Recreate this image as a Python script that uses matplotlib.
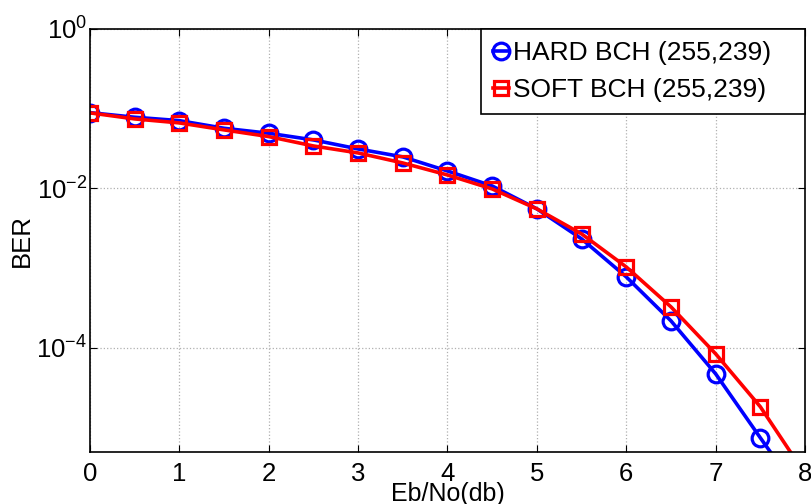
import matplotlib
matplotlib.use('Agg')
import matplotlib.pyplot as plt
import numpy as np

plt.rcParams['font.family'] = ['Liberation Sans', 'DejaVu Sans']
plt.rcParams['mathtext.fontset'] = 'custom'
plt.rcParams['mathtext.rm'] = 'Liberation Sans'
plt.rcParams['mathtext.it'] = 'Liberation Sans'

# Eb/No values and measured BER
ebno = [0, 0.5, 1, 1.5, 2, 2.5, 3, 3.5, 4, 4.5, 5, 5.5, 6, 6.5, 7, 7.5, 8]
ber_hard = [0.0891, 0.0780, 0.0707, 0.0567, 0.0491, 0.0405, 0.0312, 0.0248,
            0.0165, 0.0107, 0.00552, 0.00232, 0.000773, 0.000217, 4.69e-5,
            7.38e-6, 1.2e-6]
ber_soft = [0.0885, 0.0743, 0.0662, 0.0541, 0.0446, 0.0340, 0.0278, 0.0208,
            0.0147, 0.00982, 0.00552, 0.00268, 0.00103, 0.000325, 8.36e-5,
            1.81e-5, 2.6e-6]

fig = plt.figure(figsize=(8.12, 5.04), dpi=100)
ax = fig.add_axes([0.1108, 0.1032, 0.8806, 0.8393])

ax.semilogy(ebno, ber_hard, color='blue', marker='o', linewidth=2.6,
            markersize=12, markerfacecolor='none', markeredgewidth=2.3,
            label='HARD BCH (255,239)   ')
ax.semilogy(ebno, ber_soft, color='red', marker='s', linewidth=2.6,
            markersize=10, markerfacecolor='none', markeredgewidth=2.3,
            label='SOFT BCH (255,239)   ')

ax.set_xlim(0, 8)
ax.set_ylim(10 ** -5.31, 1)
ax.set_xticks(range(0, 9))
ax.set_yticks([1, 1e-2, 1e-4])
ax.yaxis.set_minor_locator(matplotlib.ticker.NullLocator())
ax.tick_params(direction='in', top=True, right=True, labelsize=18.5,
               length=5, width=0.8)
ax.tick_params(axis='y', pad=2)
ax.tick_params(axis='x', pad=7)
ax.grid(True, linestyle=':', color='#b0b0b0', linewidth=0.9)
for s in ax.spines.values():
    s.set_linewidth(1.2)

ax.set_xlabel('Eb/No(db)', fontsize=18, labelpad=-3)
ax.set_ylabel('BER', fontsize=18.5, labelpad=2)

leg = ax.legend(loc='upper right', bbox_to_anchor=(1, 1), borderaxespad=0,
                fontsize=19, handlelength=0.6, handletextpad=0.15,
                fancybox=False, edgecolor='black', framealpha=1,
                borderpad=0.45, labelspacing=0.5)
leg.get_frame().set_linewidth(1.2)

plt.savefig('out.png', dpi=100)
